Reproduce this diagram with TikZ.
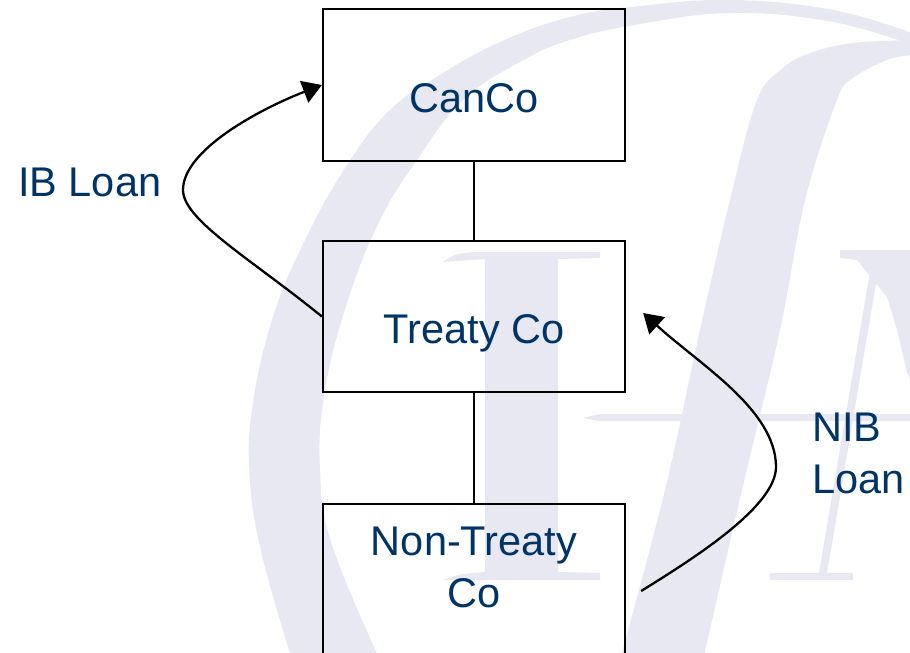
\documentclass[tikz,border=0pt]{standalone}
\usepackage{fontspec}
\setmainfont{Liberation Sans}
\usetikzlibrary{arrows.meta}
\definecolor{navy}{RGB}{0,51,102}
\definecolor{wmark}{RGB}{231,232,241}
\begin{document}
\begin{tikzpicture}[x=1pt,y=-1pt,
  wm/.style={fill=wmark},
  entity/.style={draw=black, line width=2.3pt, minimum width=302pt, inner sep=0pt,
    text=navy, font=\fontsize{41.5pt}{52pt}\selectfont, text height=54pt, text depth=0pt},
  lbl/.style={text=navy, font=\fontsize{41.5pt}{52pt}\selectfont, inner sep=0pt},
  link/.style={draw=black, line width=2.3pt},
  loan/.style={draw=black, line width=2.3pt, -{Triangle[length=19pt,width=23pt]}}]
\useasboundingbox (0,0) rectangle (910,653);
\clip (0,0) rectangle (910,653);

% background logo
\fill[wm] plot[smooth, tension=0.7] coordinates {(912,33) (833,10) (733,0) (640,6) (570,17) (500,42) (440,75) (390,110) (347,165) (305,240) (272,320) (252,410) (250,480) (262,555) (292,660)}
  -- plot[smooth, tension=0.7] coordinates {(380,660) (332,545) (320,470) (325,390) (348,300) (380,220) (417,160) (463,100) (520,62) (570,40) (640,24) (733,13) (833,22) (912,45)} -- cycle;
\fill[wm] plot[smooth, tension=0.6] coordinates {(912,40) (853,43) (810,53) (783,68) (757,100) (730,200) (700,330) (665,490) (620,660)}
  -- plot[smooth, tension=0.6] coordinates {(703,660) (742,490) (780,330) (805,200) (837,100) (853,78) (887,60) (912,55)} -- cycle;
% serif letter I
\fill[wm] (443,262) .. controls (455,254) .. (475,252) -- (600,252) -- (600,258) -- (558,259) -- (558,572) -- (600,573) -- (600,580) -- (443,580) .. controls (460,574) .. (485,572) -- (485,259) -- cycle;
% cross stroke
\fill[wm] (583,418) -- (600,414) -- (912,414) -- (912,421) -- (600,421) -- cycle;
% letter at the right edge
\fill[wm] (840,250) -- (912,250) -- (912,385) -- (907,372) -- (897,330) -- (887,297) -- (857,260) -- (840,258) -- cycle;
\fill[wm] (872,260) -- (880,260) -- (827,573) -- (819,573) -- cycle;
\fill[wm] (770,573) -- (853,573) -- (853,580) -- (770,580) -- cycle;

% entities
\node[entity, minimum height=152pt] (canco) at (474,85) {CanCo};
\node[entity, minimum height=151pt] (treaty) at (474,316.5) {Treaty Co};
\node[entity, minimum height=151pt] (nontreaty) at (474,579.5) {};
\node[lbl, align=center] (ntlabel) at (474,567.5) {Non-Treaty\\Co};

% ownership lines
\draw[link] (canco) -- (treaty);
\draw[link] (treaty) -- (nontreaty);

% loans
\coordinate (ibturn) at (183,190);
\draw[loan] (treaty.west) .. controls +(-70,-57) and +(0,30) .. (ibturn)
  .. controls +(0,-40) and +(-62,24) .. (canco.west);
\node[lbl, anchor=base west] (ibloan) at (18,196) {IB Loan};

\coordinate (nibtail) at ([xshift=15pt,yshift=-11.5pt]nontreaty.east);
\coordinate (nibtip) at ([xshift=17pt,yshift=3.5pt]treaty.east);
\coordinate (nibturn) at (776,467);
\draw[loan] (nibtail) .. controls +(50,-31) and +(0,40) .. (nibturn)
  .. controls +(0,-57) and +(57,52) .. (nibtip);
\node[lbl, align=left, anchor=west] (nibloan) at (812,453) {NIB\\Loan};
\end{tikzpicture}
\end{document}
